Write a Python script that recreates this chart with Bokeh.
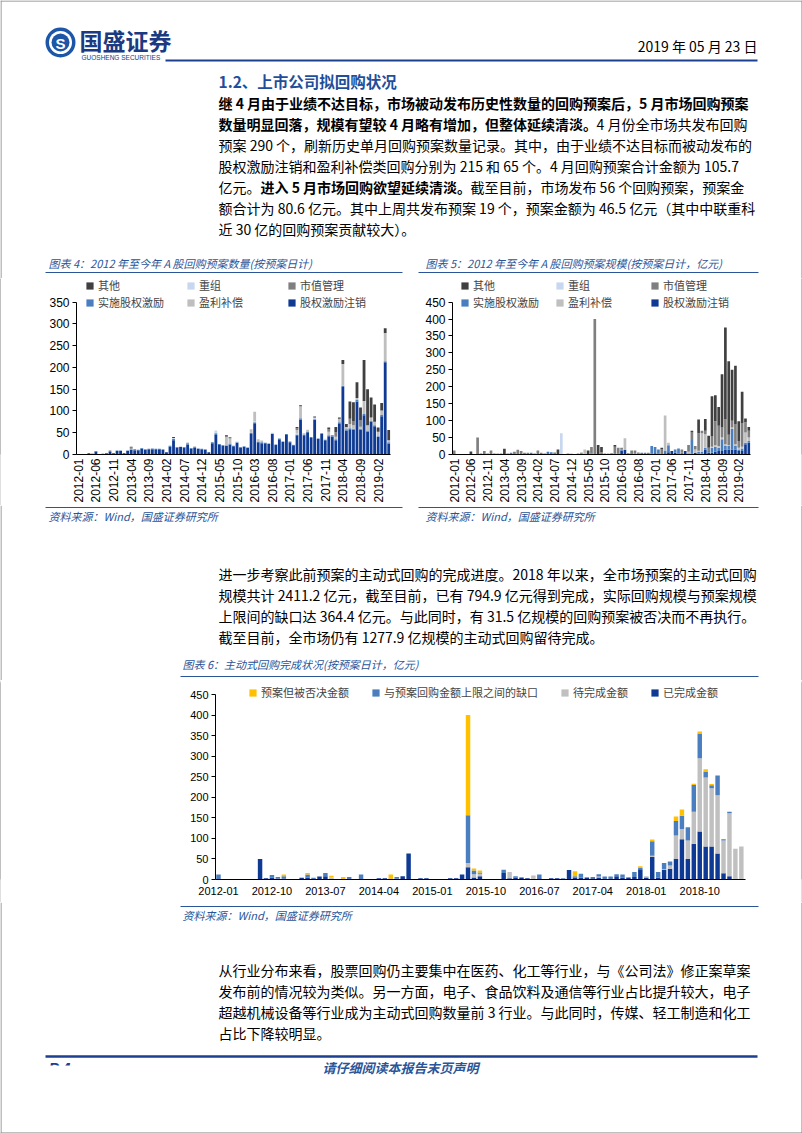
import math
from bokeh.plotting import figure
from bokeh.layouts import column, row
from bokeh.models import ColumnDataSource, Legend, LegendItem, FixedTicker, Range1d
from bokeh.core.properties import value
from bokeh.embed import file_html
from bokeh.resources import INLINE

CJK = "Noto Sans CJK SC"
NUM = "Liberation Sans"
BLUE = "#2a5599"
NAVY = "#1c3f8f"
EDGE = "#808080"

# ---------------- data ----------------
months = [f"{y}-{m:02d}" for y in range(2012, 2020) for m in range(1, 13)][:89]

# Chart 4: number of buyback plans (count) by type, monthly 2012-01 .. 2019-05
cnt_cancel = [1,1,0,3,2,7,1,2,3,6,
              3,8,8,3,8,11,10,10,13,11,
              12,12,12,12,11,5,18,33,16,17,
              16,23,14,16,13,12,11,5,26,45,
              22,20,20,23,19,27,16,18,15,47,
              72,28,26,26,24,47,22,35,29,45,
              28,21,44,80,44,51,38,79,36,47,
              33,42,41,33,70,155,55,58,57,122,
              57,90,52,75,65,40,88,212,25]
cnt_impl = [0,0,0,0,0,1,0,0,0,0,
            0,1,1,0,1,1,2,1,2,1,
            1,2,1,1,1,0,2,3,1,1,
            1,2,1,1,1,1,1,0,2,4,
            2,2,1,2,1,1,1,1,1,3,
            2,2,2,1,1,1,1,2,1,2,
            2,1,2,3,2,2,2,2,1,2,
            1,2,2,2,4,3,3,2,2,3,
            2,3,3,2,2,2,3,2,3]
cnt_restr = [0,0,0,0,0,0,0,0,0,0,
             0,0,0,0,0,0,0,0,0,0,
             0,0,0,0,0,0,0,2,0,0,
             0,0,0,0,0,0,0,0,0,6,
             0,0,1,0,0,2,0,0,0,0,
             2,0,0,0,0,2,0,0,0,0,
             0,1,2,0,0,0,0,4,0,0,
             2,0,0,0,0,0,0,0,0,0,
             0,0,0,0,0,0,0,0,0]
cnt_comp = [0,0,0,0,0,0,0,0,0,0,
            0,0,0,0,0,1,0,0,0,0,
            0,0,0,0,0,0,0,0,0,0,
            0,0,0,2,0,0,0,0,0,0,
            0,0,18,12,0,0,0,0,0,8,
            22,5,4,0,0,0,0,0,0,0,
            0,0,8,28,3,4,0,0,0,0,
            0,8,0,6,8,50,5,10,8,5,
            5,30,12,8,8,10,10,65,5]
cnt_mv = [0,0,0,0,0,0,0,0,0,3,
          0,0,0,0,0,3,0,0,0,0,
          0,0,0,0,0,0,0,0,0,0,
          0,2,0,0,0,0,0,0,0,0,
          0,0,3,3,0,0,0,0,0,0,
          0,0,0,0,0,0,0,0,0,0,
          0,0,4,0,0,0,0,0,0,0,
          0,6,2,10,0,0,0,12,10,0,
          14,0,0,0,0,0,0,0,0]
cnt_other = [0,0,0,0,0,0,0,0,0,0,
             0,0,0,0,0,2,0,0,0,0,
             0,0,0,0,0,0,0,2,0,0,
             0,0,0,0,0,0,0,0,0,0,
             0,0,2,0,0,0,0,0,0,0,
             0,0,0,0,0,0,0,0,0,0,
             0,0,3,2,0,0,0,2,0,0,
             0,4,0,12,3,9,7,40,43,36,
             30,94,83,46,40,10,17,11,23]

# Chart 5: amount of buyback plans (100m CNY) by type
amt_cancel = [0,0,0,0,0,0,0,0,0,0,
              0,0,0,2,0,0,0,0,0,0,
              0,0,0,0,0,0,0,0,0,0,
              0,0,0,0,0,0,0,0,0,0,
              0,0,0,0,0,0,2,3,3,3,
              12,13,3,0,2,3,0,0,0,3,
              4,3,0,4,7,10,5,3,0,10,
              3,3,5,3,3,15,5,5,8,10,
              10,15,15,15,15,10,10,30,35]
amt_impl = [0,0,0,0,0,0,0,0,0,0,
            0,0,0,0,0,0,0,5,0,0,
            0,0,0,5,0,0,0,0,8,7,
            0,0,0,0,0,0,0,0,0,0,
            0,2,0,0,0,0,0,0,0,0,
            3,0,0,0,0,0,5,5,0,22,
            18,12,0,8,20,0,10,15,5,0,
            0,40,0,5,5,5,5,15,15,10,
            35,10,10,60,10,5,8,5,5]
amt_restr = [0,0,0,0,0,0,0,0,0,0,
             0,0,0,0,0,0,0,0,0,0,
             0,0,0,0,0,0,0,0,0,0,
             0,0,63,0,0,0,0,0,0,0,
             0,0,0,0,0,0,0,0,0,0,
             0,0,0,0,0,0,0,0,0,0,
             0,0,0,0,0,0,0,0,0,0,
             0,0,0,0,0,0,0,0,0,0,
             0,0,0,0,0,0,0,0,0]
amt_comp = [0,0,0,0,0,0,0,0,0,0,
            0,0,0,0,0,0,0,0,0,0,
            0,0,0,0,0,0,0,0,0,0,
            0,0,0,0,0,0,0,0,3,15,
            0,0,0,0,0,0,0,0,0,0,
            0,35,0,0,0,0,0,0,0,0,
            0,0,0,103,8,0,0,0,0,0,
            5,0,10,3,55,40,0,3,5,5,
            5,5,3,5,5,5,5,30,10]
amt_mv = [12,0,0,0,0,0,1,50,3,10,
          3,12,3,0,3,0,3,0,8,14,
          10,5,5,0,3,12,5,3,0,0,
          6,0,0,0,3,2,1,3,0,0,
          0,20,400,0,7,3,0,0,20,17,
          5,0,0,12,10,3,0,0,5,0,
          0,0,15,0,0,0,0,0,10,0,
          20,22,10,52,7,10,10,30,70,60,
          30,75,30,20,60,20,70,30,20]
amt_other = [0,0,0,0,1,9,0,0,0,0,
             0,0,0,0,0,17,0,0,0,0,
             0,0,0,0,0,0,0,0,0,0,
             0,15,0,0,0,0,0,0,2,0,
             12,0,0,28,15,0,0,0,5,0,
             0,0,0,0,0,0,0,0,0,0,
             0,0,5,0,0,0,0,0,0,0,
             0,5,0,40,0,35,35,119,77,55,
             157,270,217,150,172,58,92,11,11]

# Chart 6: completion of active buybacks (100m CNY)
act_done = [0,0,0,0,0,0,0,50,3,5,
            2,2,0,0,4,5,0,7,8,2,
            0,0,0,0,0,0,0,3,3,2,
            2,8,63,0,3,3,0,0,0,3,
            3,12,30,5,8,0,0,0,16,3,
            5,5,3,0,3,0,3,3,0,23,
            5,4,5,3,5,0,0,8,5,5,
            6,25,5,55,5,23,26,50,98,50,
            87,117,80,80,63,15,8,2,0]
act_pending = [0,0,0,0,0,0,0,0,0,0,
               0,0,0,0,0,0,0,0,0,3,
               0,0,0,0,0,0,0,0,0,0,
               0,0,0,0,0,0,0,0,0,0,
               0,0,10,8,6,0,0,0,0,15,
               0,0,0,10,0,0,0,0,0,0,
               0,0,0,0,2,0,0,0,0,0,
               0,0,3,3,0,2,8,57,25,45,
               78,178,168,142,142,80,153,73,80]
act_gap = [12,0,0,0,0,0,0,0,0,6,
           4,6,0,0,0,7,4,0,8,0,
           0,0,6,0,12,0,0,0,0,0,
           4,0,0,0,0,0,0,0,0,0,
           0,0,116,9,3,0,0,0,8,0,
           3,0,0,0,9,0,0,0,3,0,
           3,10,0,3,6,7,7,5,7,0,
           12,3,0,35,13,15,10,35,32,32,
           65,60,15,7,48,3,4,0,0]
act_rejected = [0,0,0,0,0,0,0,0,0,0,
                0,4,0,0,0,4,0,0,0,4,
                0,6,0,0,0,0,0,0,0,10,
                0,0,0,0,0,0,0,0,0,0,
                0,0,244,5,5,0,0,0,0,0,
                0,0,0,0,0,0,0,0,0,0,
                12,0,0,0,0,0,0,0,0,0,
                0,4,0,4,0,0,0,11,15,0,
                3,5,5,3,0,0,0,0,0]

type_keys = ["cancel", "impl", "restr", "comp", "mv", "other"]
type_names = {"cancel": "股权激励注销", "impl": "实施股权激励", "restr": "重组",
              "comp": "盈利补偿", "mv": "市值管理", "other": "其他"}
type_colors = {"cancel": "#0f3a93", "impl": "#4a7ebf", "restr": "#c6d7ef",
               "comp": "#bfbfbf", "mv": "#7f7f7f", "other": "#404040"}
legend_order = ["other", "restr", "mv", "impl", "comp", "cancel"]

act_keys = ["done", "pending", "gap", "rejected"]
act_names = {"done": "已完成金额", "pending": "待完成金额",
             "gap": "与预案回购金额上限之间的缺口", "rejected": "预案但被否决金额"}
act_colors = {"done": "#0f3a93", "pending": "#c0c0c0", "gap": "#4a7ebf", "rejected": "#ffc000"}
act_legend_order = ["rejected", "gap", "pending", "done"]

ticks45 = list(range(0, 89, 5))
ticks6 = list(range(0, 89, 9))

for arr in [cnt_cancel, cnt_impl, cnt_restr, cnt_comp, cnt_mv, cnt_other,
            amt_cancel, amt_impl, amt_restr, amt_comp, amt_mv, amt_other,
            act_done, act_pending, act_gap, act_rejected]:
    assert len(arr) == 89, len(arr)

# ---------------- helpers ----------------
def text_fig(y0, y1):
    f = figure(width=802, height=y1 - y0, x_range=Range1d(0, 802), y_range=Range1d(y1, y0),
               x_axis_location=None, y_axis_location=None, toolbar_location=None,
               output_backend="svg", min_border=0, outline_line_color=None)
    f.grid.visible = False
    # page border
    f.line(x=[0.5, 0.5], y=[y0, y1], line_color=EDGE, line_width=1)
    f.line(x=[801.5, 801.5], y=[y0, y1], line_color=EDGE, line_width=1)
    return f


def edge_fig(h):
    # 1px wide grey strip: the page border beside the chart blocks
    f = figure(width=1, height=h, x_axis_location=None, y_axis_location=None,
               toolbar_location=None, output_backend="svg", min_border=0,
               outline_line_color=None, background_fill_color=EDGE, border_fill_color=EDGE)
    f.grid.visible = False
    return f


def tw(s, size):
    w = 0.0
    for ch in s:
        if ord(ch) > 0x2E80:
            w += 1.0
        elif ch == " ":
            w += 0.224
        else:
            w += 0.55
    return w * size


def txt(f, x, y, s, size=14, color="#000000", bold=False, italic=False, align="left",
        font=CJK, baseline="middle"):
    style = "bold italic" if (bold and italic) else "bold" if bold else "italic" if italic else "normal"
    f.text(x=[x], y=[y], text=[s], text_font=value(font), text_font_size=f"{size}px",
           text_color=color, text_font_style=style, text_baseline=baseline, text_align=align)


def segs(f, x, y, parts, size=14):
    for s, b in parts:
        txt(f, x, y, s, size=size, bold=b)
        x += tw(s, size)


def hline(f, x0, x1, y, color=BLUE, w=1.0):
    f.line(x=[x0, x1], y=[y, y], line_color=color, line_width=w)


def make_chart(width, height, ml, mr, mt, mb, xend, yend, yticks, ybound, xticks,
               fs, rotate):
    f = figure(width=width, height=height, x_range=Range1d(-0.5, xend), y_range=Range1d(0, yend),
               min_border_left=ml, min_border_right=mr, min_border_top=mt, min_border_bottom=mb,
               toolbar_location=None, output_backend="svg", outline_line_color=None)
    f.xgrid.visible = False
    f.ygrid.visible = False
    ya = f.yaxis[0]
    ya.ticker = FixedTicker(ticks=yticks)
    ya.bounds = (0, ybound)
    ya.minor_tick_line_color = None
    ya.major_tick_in = 0
    ya.major_tick_out = 4
    ya.major_label_standoff = 3
    ya.major_label_text_font = NUM
    ya.major_label_text_font_size = fs
    ya.major_label_text_color = "#000000"
    ya.axis_line_color = "#000000"
    ya.major_tick_line_color = "#000000"
    xa = f.xaxis[0]
    xa.ticker = FixedTicker(ticks=xticks)
    xa.major_label_overrides = {t: months[t] for t in xticks}
    xa.minor_tick_line_color = None
    xa.major_tick_in = 0
    xa.major_tick_out = 0
    xa.major_label_text_font = NUM
    xa.major_label_text_font_size = fs
    xa.major_label_text_color = "#000000"
    xa.axis_line_color = "#000000"
    if rotate:
        xa.major_label_orientation = math.pi / 2
        xa.major_label_standoff = 4
    else:
        xa.major_label_standoff = 7
    return f


def add_stack(f, keys, data, colors, bar_w):
    src = ColumnDataSource(dict(x=list(range(89)), **{k: data[k] for k in keys}))
    rs = f.vbar_stack(keys, x="x", width=bar_w, source=src,
                      fill_color=[colors[k] for k in keys], line_color=None)
    return dict(zip(keys, rs))


def add_legend(f, rmap, order, names, loc, ncols, label_w, spacing, fs="11px"):
    items = [LegendItem(label=names[k], renderers=[rmap[k]]) for k in order]
    lg = Legend(items=items, location=loc, orientation="horizontal", ncols=ncols,
                border_line_color=None, background_fill_alpha=0, padding=0, margin=0,
                spacing=spacing, glyph_width=9, glyph_height=9, label_standoff=4,
                label_text_font=CJK, label_text_font_size=fs, label_height=12,
                label_width=label_w)
    f.add_layout(lg)


# ---------------- A: header & paragraph 1 ----------------
A = text_fig(0, 278)
hline(A, 0, 802, 0.5, color=EDGE, w=1)
A.circle(x=[60], y=[42], radius=15, fill_color="#1d56a6", line_color=None)
A.circle(x=[60], y=[42], radius=11.5, fill_color="#ffffff", line_color=None)
A.circle(x=[60], y=[42], radius=9, fill_color="#1d56a6", line_color=None)
txt(A, 60, 42.5, "S", size=15, color="#ffffff", bold=True, align="center", font=NUM)
txt(A, 79, 39, "国盛证券", size=23, color="#1b3a82", bold=True)
txt(A, 81, 57, "GUOSHENG SECURITIES", size=6.5, color="#1b3a82", font=NUM)
txt(A, 757, 45, "2019 年 05 月 23 日", size=14, align="right")
hline(A, 165, 757, 60, color=NAVY, w=2)
txt(A, 218, 80, "1.2、上市公司拟回购状况", size=15.5, color="#1f4e9a", bold=True)

para1 = [
    [("继 4 月由于业绩不达目标，市场被动发布历史性数量的回购预案后，5 月市场回购预案", True)],
    [("数量明显回落，规模有望较 4 月略有增加，但整体延续清淡。", True), ("4 月份全市场共发布回购", False)],
    [("预案 290 个，刷新历史单月回购预案数量记录。其中，由于业绩不达目标而被动发布的", False)],
    [("股权激励注销和盈利补偿类回购分别为 215 和 65 个。4 月回购预案合计金额为 105.7", False)],
    [("亿元。", False), ("进入 5 月市场回购欲望延续清淡。", True), ("截至目前，市场发布 56 个回购预案，预案金", False)],
    [("额合计为 80.6 亿元。其中上周共发布预案 19 个，预案金额为 46.5 亿元（其中中联重科", False)],
    [("近 30 亿的回购预案贡献较大）。", False)],
]
for k, parts in enumerate(para1):
    segs(A, 218, 102 + k * 21, parts)

txt(A, 48, 262, "图表 4：2012 年至今年 A 股回购预案数量(按预案日计)", size=11, color=BLUE, italic=True)
txt(A, 425, 262, "图表 5：2012 年至今年 A 股回购预案规模(按预案日计，亿元)", size=11, color=BLUE, italic=True)
hline(A, 45, 402, 272)
hline(A, 418, 758, 272)

# ---------------- B: charts 4 and 5 ----------------
cnt = dict(cancel=cnt_cancel, impl=cnt_impl, restr=cnt_restr, comp=cnt_comp, mv=cnt_mv, other=cnt_other)
amt = dict(cancel=amt_cancel, impl=amt_impl, restr=amt_restr, comp=amt_comp, mv=amt_mv, other=amt_other)

f4 = make_chart(409, 227, 75, 20, 0, 48, 88.5, 350 * 179 / 155, list(range(0, 351, 50)), 350,
                ticks45, "12px", True)
r4 = add_stack(f4, type_keys, cnt, type_colors, 0.8)
add_legend(f4, r4, legend_order, type_names, (9, 144), 3, 87, 1)

f5 = make_chart(391, 227, 42, 51, 0, 48, 88.5, 450 * 179 / 155, list(range(0, 451, 50)), 450,
                ticks45, "12px", True)
r5 = add_stack(f5, type_keys, amt, type_colors, 0.8)
add_legend(f5, r5, legend_order, type_names, (8, 144), 3, 81, 1)

# ---------------- C: sources, paragraph 2, chart 6 title ----------------
C = text_fig(505, 680)
hline(C, 45, 402, 507)
hline(C, 418, 758, 507)
txt(C, 48, 515, "资料来源：Wind，国盛证券研究所", size=11, color=BLUE, italic=True)
txt(C, 425, 515, "资料来源：Wind，国盛证券研究所", size=11, color=BLUE, italic=True)
para2 = [
    "进一步考察此前预案的主动式回购的完成进度。2018 年以来，全市场预案的主动式回购",
    "规模共计 2411.2 亿元，截至目前，已有 794.9 亿元得到完成，实际回购规模与预案规模",
    "上限间的缺口达 364.4 亿元。与此同时，有 31.5 亿规模的回购预案被否决而不再执行。",
    "截至目前，全市场仍有 1277.9 亿规模的主动式回购留待完成。",
]
for k, s in enumerate(para2):
    txt(C, 218, 573 + k * 21, s, size=14)
txt(C, 182, 663, "图表 6：主动式回购完成状况(按预案日计，亿元)", size=11, color=BLUE, italic=True)
hline(C, 180, 758, 676)

# ---------------- D: chart 6 ----------------
act = dict(done=act_done, pending=act_pending, gap=act_gap, rejected=act_rejected)
f6 = make_chart(800, 222, 214, 56, 2, 23, 88.7, 450 * 197 / 185, list(range(0, 451, 50)), 450,
                ticks6, "11px", False)
r6 = add_stack(f6, act_keys, act, act_colors, 0.75)
add_legend(f6, r6, act_legend_order, act_names, (33, 179), 4, 20, 22, fs="11px")

# ---------------- E: source, paragraph 3, footer ----------------
E = text_fig(902, 1133)
hline(E, 180, 758, 906)
txt(E, 182, 914, "资料来源：Wind，国盛证券研究所", size=11, color=BLUE, italic=True)
para3 = [
    "从行业分布来看，股票回购仍主要集中在医药、化工等行业，与《公司法》修正案草案",
    "发布前的情况较为类似。另一方面，电子、食品饮料及通信等行业占比提升较大，电子",
    "超越机械设备等行业成为主动式回购数量前 3 行业。与此同时，传媒、轻工制造和化工",
    "占比下降较明显。",
]
for k, s in enumerate(para3):
    txt(E, 218, 969 + k * 21, s, size=14)
hline(E, 45, 757, 1056, color=NAVY, w=2.5)
txt(E, 48, 1060, "P.4", size=16, color=NAVY, bold=True, italic=True, font=NUM, baseline="top")
E.quad(left=[40], right=[110], top=[1065], bottom=[1090], fill_color="#ffffff", line_color=None)
txt(E, 400, 1067, "请仔细阅读本报告末页声明", size=13, color=BLUE, bold=True, italic=True, align="center")
hline(E, 0, 802, 1132.5, color=EDGE, w=1)

# wrap every block in its own row so that plot frames are not aligned across the column
page = column(row(A),
              row(edge_fig(227), f4, f5, edge_fig(227), spacing=0),
              row(C),
              row(edge_fig(222), f6, edge_fig(222), spacing=0),
              row(E), spacing=0)

open("out.html", "w").write(file_html(page, INLINE))
